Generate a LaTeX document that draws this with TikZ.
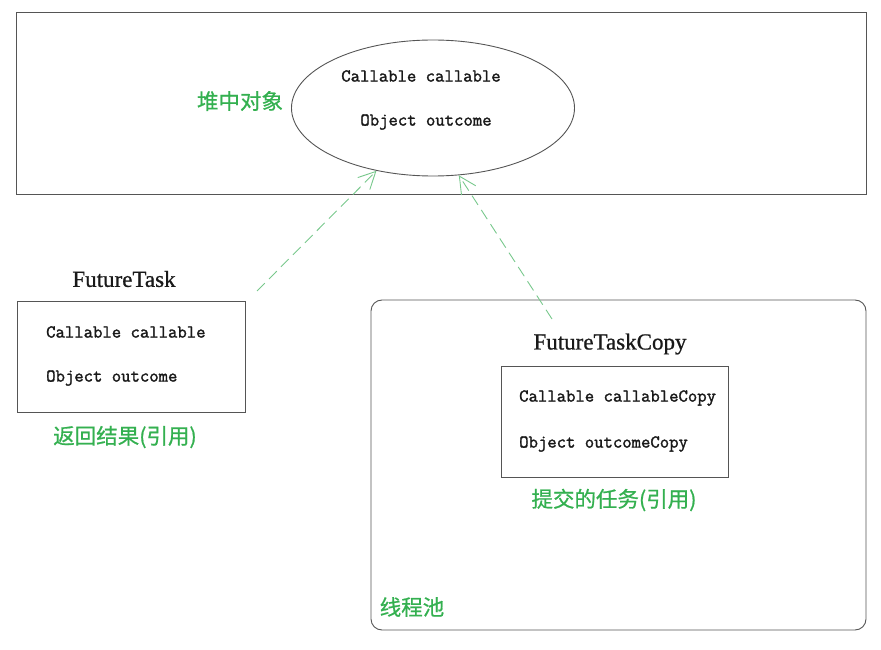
\documentclass[tikz,border=0pt]{standalone}
\usepackage{fontspec}
\usetikzlibrary{shapes.geometric,arrows.meta}
\newfontfamily\cjk[FakeBold=0.8]{Noto Sans CJK SC}
\newfontfamily\monof[FakeBold=1.6]{Latin Modern Mono}
\newfontfamily\labf[FakeBold=0.8]{Liberation Serif}
\definecolor{txtgreen}{RGB}{52,176,80}
\definecolor{arrgreen}{RGB}{120,200,140}
\definecolor{linegray}{RGB}{85,85,85}
\tikzset{
  box/.style={draw=linegray, line width=0.9pt, inner sep=0pt},
  code/.style={font=\monof\fontsize{18.2}{20}\selectfont, anchor=west, inner sep=0pt, text=black!90},
  lab/.style={font=\labf\fontsize{23}{25}\selectfont, inner sep=0pt, text=black!90},
  cn/.style={font=\cjk\fontsize{21.5}{23}\selectfont, inner sep=0pt, text=txtgreen},
  ref/.style={draw=arrgreen, line width=0.9pt, dash pattern=on 11pt off 6pt, -{Straight Barb[length=17pt,width=17pt]}}
}
\begin{document}
\begin{tikzpicture}[x=1pt,y=-1pt]
\useasboundingbox (0,0) rectangle (881,650);
% heap region
\node[box, minimum width=850pt, minimum height=182pt] (heap) at (441,103) {};
\node[box, ellipse, minimum width=283pt, minimum height=136pt] (obj) at (433,108) {};
\node[code, anchor=center] (c1) at (421,76) {Callable callable};
\node[code, anchor=center] (c2) at (426,122) {Object outcome};
\node[cn] (heaplab) at (240,101) {堆中对象};
% FutureTask
\node[lab] (ftlab) at (124,279) {FutureTask};
\node[box, minimum width=228pt, minimum height=111pt] (ft) at (131,356.5) {};
\node[code] (f1) at (46,332) {Callable callable};
\node[code] (f2) at (46,378) {Object outcome};
\node[cn] (ftcn) at (125,437) {返回结果(引用)};
% thread pool
\node[box, rounded corners=11pt, minimum width=495pt, minimum height=330pt] (pool) at (618.5,465) {};
\node[lab] (ftclab) at (610,344) {FutureTaskCopy};
\node[box, minimum width=227pt, minimum height=111pt] (ftc) at (614.5,421.5) {};
\node[code] (g1) at (519,398) {Callable callableCopy};
\node[code] (g2) at (519,444) {Object outcomeCopy};
\node[cn] (ftccn) at (614,500) {提交的任务(引用)};
\node[cn] (poollab) at (412,607) {线程池};
% references
\coordinate (s1) at (257,291);
\coordinate (s2) at (552,319);
\draw[ref] (s1) -- (obj.228);
\draw[ref] (s2) -- (obj.291);
\end{tikzpicture}
\end{document}
